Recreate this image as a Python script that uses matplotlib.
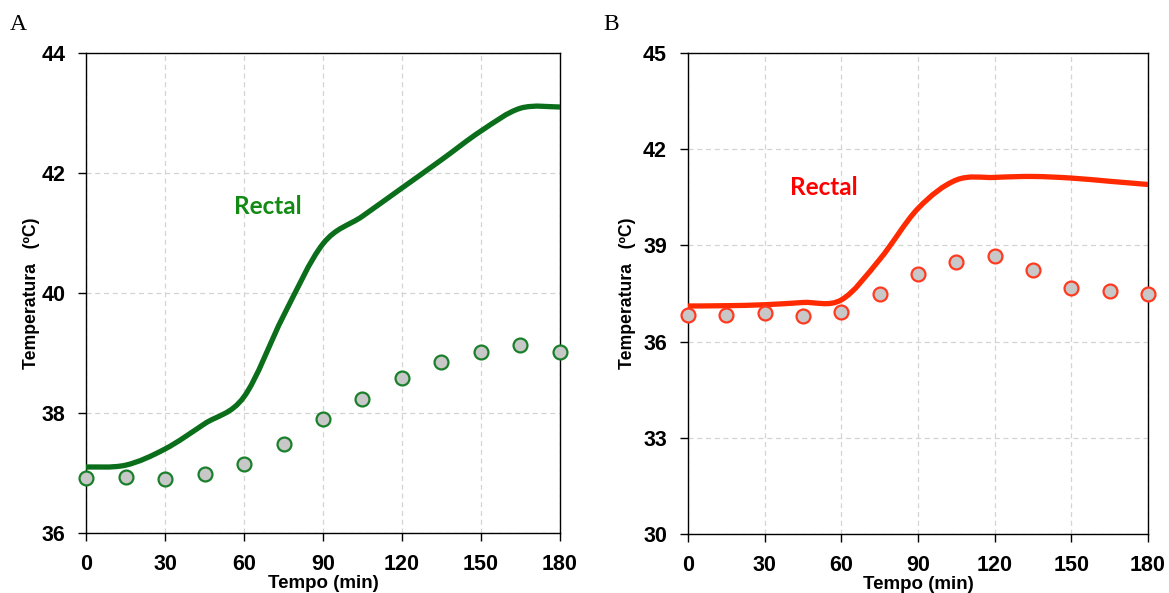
import numpy as np
import matplotlib
matplotlib.use("Agg")
import matplotlib.pyplot as plt
from matplotlib.path import Path
from matplotlib.patches import PathPatch

# Time points (min)
tempo = [0, 15, 30, 45, 60, 75, 90, 105, 120, 135, 150, 165, 180]
xticks = [0, 30, 60, 90, 120, 150, 180]

# Panel A (green)
rectal_a = [37.10, 37.13, 37.40, 37.82, 38.27, 39.62, 40.82, 41.28, 41.75, 42.22, 42.70, 43.08, 43.10]
pontos_a = [36.92, 36.93, 36.90, 36.98, 37.15, 37.48, 37.90, 38.23, 38.58, 38.85, 39.02, 39.13, 39.02]
yticks_a = [36, 38, 40, 42, 44]

# Panel B (red)
rectal_b = [37.11, 37.12, 37.15, 37.22, 37.30, 38.56, 40.15, 41.04, 41.12, 41.15, 41.10, 41.00, 40.90]
pontos_b = [36.83, 36.83, 36.89, 36.80, 36.92, 37.48, 38.11, 38.48, 38.67, 38.23, 37.67, 37.58, 37.48]
yticks_b = [30, 33, 36, 39, 42, 45]


def smooth_path(x, y):
    # Excel-style smoothed line: cubic Bezier segments through every point
    p = np.column_stack([x, y]).astype(float)
    n = len(p)
    verts = [p[0]]
    codes = [Path.MOVETO]
    for i in range(n - 1):
        p0 = p[i - 1] if i > 0 else p[i]
        p3 = p[i + 2] if i + 2 < n else p[i + 1]
        c1 = p[i] + (p[i + 1] - p0) / 6
        c2 = p[i + 1] - (p3 - p[i]) / 6
        verts += [c1, c2, p[i + 1]]
        codes += [Path.CURVE4] * 3
    return Path(verts, codes)


def painel(ax, linha, pontos, yticks, cor_linha, cor_borda, cor_texto, txt_xy, ylab_x):
    ax.add_patch(PathPatch(smooth_path(tempo, linha), fill=False, edgecolor=cor_linha,
                           lw=3.8, capstyle='round', zorder=3))
    ax.plot(tempo, pontos, 'o', ms=10, mfc='#c8c8c8', mec=cor_borda, mew=1.6,
            clip_on=False, zorder=4)
    ax.set_xlim(0, 180)
    ax.set_ylim(yticks[0], yticks[-1])
    ax.set_xticks(xticks)
    ax.set_yticks(yticks)
    ax.grid(True, color='#d4d4d4', ls=(0, (4, 3)), lw=0.9)
    ax.set_axisbelow(True)
    for s in ax.spines.values():
        s.set_color('black')
        s.set_linewidth(1.0)
    ax.tick_params(direction='out', length=6, width=1.0, pad=9,
                   labelsize=15.5, labelcolor='black')
    for lab in ax.get_xticklabels() + ax.get_yticklabels():
        lab.set_fontweight('bold')
        lab.set_family('Liberation Sans')
    ax.set_xlabel('Tempo (min)', fontsize=13.5, fontweight='bold',
                  family='Liberation Sans')
    ax.xaxis.set_label_coords(0.5, -0.087)
    ax.set_ylabel('Temperatura   (ºC)', fontsize=12.7, fontweight='bold',
                  family='Liberation Sans')
    ax.yaxis.set_label_coords(ylab_x, 0.5)
    ax.text(txt_xy[0], txt_xy[1], 'Rectal', color=cor_texto, fontsize=17.5,
            fontweight='bold', family='Lato', ha='center', va='center')


fig = plt.figure(figsize=(11.69, 5.93), dpi=100)
ax_a = fig.add_axes([0.0736, 0.1012, 0.4054, 0.8094])
ax_b = fig.add_axes([0.5885, 0.0995, 0.3935, 0.8111])

painel(ax_a, rectal_a, pontos_a, yticks_a, '#0b6e1a', '#1a7f2a', '#138a13', (69, 41.45), -0.097)
painel(ax_b, rectal_b, pontos_b, yticks_b, '#ff2a00', '#ff3a20', '#ff0000', (53, 40.8), -0.113)

fig.text(0.0086, 0.958, 'A', fontsize=17, family='Liberation Serif', ha='left', va='center')
fig.text(0.516, 0.958, 'B', fontsize=17, family='Liberation Serif', ha='left', va='center')

fig.savefig('out.png', dpi=100)
